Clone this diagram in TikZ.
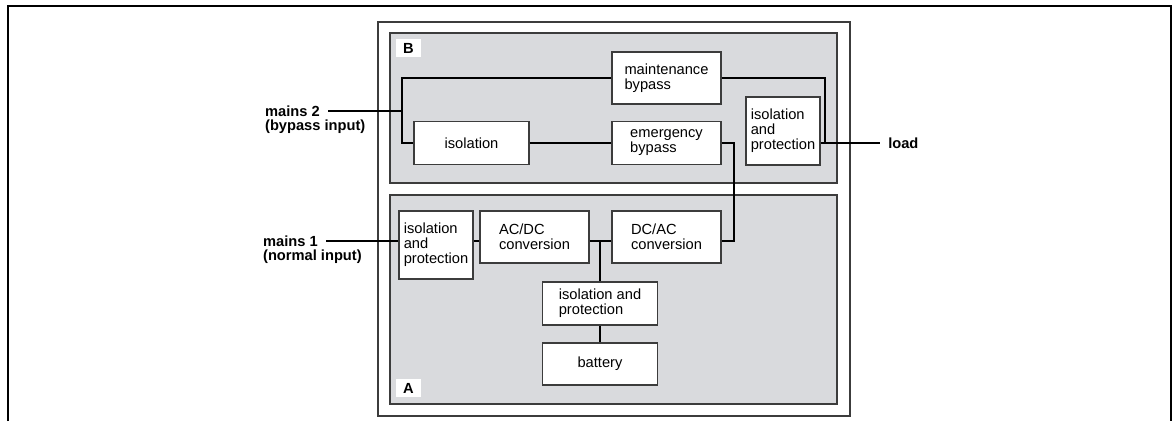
\documentclass[tikz,border=0pt]{standalone}
\usepackage{fontspec}
\setmainfont{Liberation Sans}
\usetikzlibrary{positioning}
\definecolor{panelgray}{RGB}{217,218,221}
\definecolor{edgegray}{RGB}{60,60,60}
\tikzset{
    blk/.style 2 args={draw=edgegray, line width=0.9pt, fill=white, align=left,
        minimum width=#1*0.75pt, minimum height=#2*0.75pt, inner sep=0pt,
        font=\fontsize{11pt}{11.25pt}\selectfont},
    panel/.style={draw=edgegray, line width=0.9pt, fill=panelgray},
    tag/.style={fill=white, inner sep=0pt, minimum width=18.75pt, minimum height=13.5pt,
        font=\fontsize{11pt}{11pt}\selectfont\bfseries},
    lbl/.style={inner xsep=6pt, inner ysep=0pt, align=left,
        font=\fontsize{11pt}{11.25pt}\selectfont\bfseries},
    wire/.style={line width=1.3pt}
}
\begin{document}
\begin{tikzpicture}[x=0.75pt, y=-0.75pt]
\useasboundingbox (0,0) rectangle (1176,421);
% frame and cabinet
\draw[line width=1.5pt] (8,421) -- (8,6) -- (1171,6) -- (1171,421);
\draw[draw=edgegray, line width=1.2pt] (378,22) rectangle (850,416);
\draw[panel] (390,33) rectangle (837,183);
\draw[panel] (390,195) rectangle (837,404);
\node[tag] (tB) at (408.5,48) {B};
\node[tag] (tA) at (408.5,388) {A};
% panel B
\node[blk={109}{52}] (mbyp) at (666.5,78) {maintenance\\bypass};
\node[blk={115}{43}] (iso) at (471.5,143) {isolation};
\node[blk={109}{43}] (ebyp) at (666.5,143) {emergency\\bypass};
\node[blk={74}{68}] (isoout) at (783,131) {isolation\\and\\protection};
% panel A
\node[blk={74}{68}] (isoin) at (436,245) {isolation\\and\\protection};
\node[blk={109}{52}] (rect) at (534.5,237) {AC/DC\\conversion};
\node[blk={109}{52}] (inv) at (666.5,237) {DC/AC\\conversion};
\node[blk={115}{43}] (isobat) at (600,303.5) {isolation and\\protection};
\node[blk={115}{42}] (bat) at (600,364) {battery};
% inputs and output
\node[lbl, anchor=east] (m2) at (328,111) {mains 2};
\node[lbl, below=2.5pt of m2.south west, anchor=north west] (m2b) {(bypass input)};
\node[lbl, anchor=east] (m1) at (326,241) {mains 1};
\node[lbl, below=2.5pt of m1.south west, anchor=north west] (m1b) {(normal input)};
\node[lbl, anchor=west] (load) at (880,143) {load};
%
\coordinate (jb) at (402,111);
\coordinate (jl) at (825,143);
\coordinate (jo) at (734,143);
\coordinate (busA) at (390,241);
% wiring
\draw[wire] (m2.east) -- (jb);
\draw[wire] (mbyp.west) -| (iso.west -| jb) -- (iso.west);
\draw[wire] (iso.east) -- (ebyp.west);
\draw[wire] (mbyp.east) -| (jl);
\draw[wire] (isoout.east |- jl) -- (load.west);
\draw[wire] (ebyp.east |- jo) -- (jo) |- (inv.east |- busA);
\draw[wire] (m1.east) -- (isoin.west |- busA);
\draw[wire] (isoin.east |- busA) -- (rect.west |- busA);
\draw[wire] (rect.east |- busA) -- (inv.west |- busA);
\draw[wire] (isobat.north |- busA) -- (isobat.north);
\draw[wire] (isobat.south) -- (bat.north);
\end{tikzpicture}
\end{document}
